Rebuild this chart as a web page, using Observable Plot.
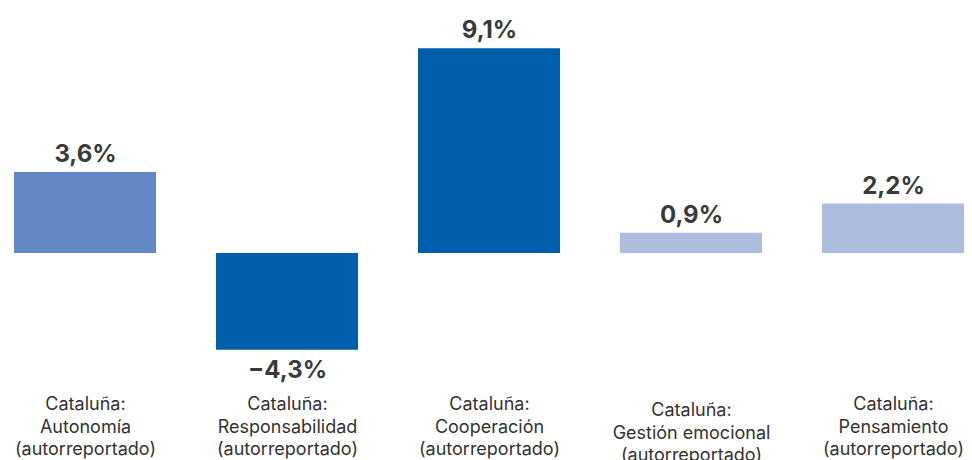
<!DOCTYPE html>
<html>
<head>
<meta charset="utf-8">
<script src="https://cdn.jsdelivr.net/npm/d3@7"></script>
<script src="https://cdn.jsdelivr.net/npm/@observablehq/plot@0.6"></script>
<style>
  html, body { margin: 0; padding: 0; background: #fff; }
  #chart { width: 972px; height: 460px; overflow: hidden; }
</style>
</head>
<body>
<div id="chart"></div>
<script>
const categories = [
  "Cataluña:\nAutonomía\n(autorreportado)",
  "Cataluña:\nResponsabilidad\n(autorreportado)",
  "Cataluña:\nCooperación\n(autorreportado)",
  "Cataluña:\nGestión emocional\n(autorreportado)",
  "Cataluña:\nPensamiento\n(autorreportado)"
];
const values = [3.6, -4.3, 9.1, 0.9, 2.2];
const valueLabels = ["3,6%", "−4,3%", "9,1%", "0,9%", "2,2%"];

const palette = ["#6287c5", "#005fad", "#005fad", "#adbde0", "#adbde0"];

const data = categories.map((c, i) => ({category: c, value: values[i], label: valueLabels[i], idx: i}));

const labelStyle = {fontSize: 18, lineHeight: 1.24, fill: "#333", lineAnchor: "top", frameAnchor: "bottom"};

const chart = Plot.plot({
  width: 972,
  height: 460,
  marginLeft: 14,
  marginRight: 7,
  marginTop: 28,
  marginBottom: 72,
  style: {fontFamily: "Inter, 'Noto Sans', sans-serif", background: "#fff"},
  x: {domain: categories, paddingInner: 0.297, paddingOuter: 0, axis: null},
  y: {domain: [-6, 10], axis: null},
  color: {domain: categories, range: palette},
  marks: [
    Plot.barY(data, {x: "category", y: "value", fill: "category"}),
    Plot.text(data.filter(d => d.value >= 0), {
      x: "category", y: "value", text: "label", dy: -18,
      fontSize: 24, fontWeight: 700, fill: "#3a3a3a"
    }),
    Plot.text(data.filter(d => d.value < 0), {
      x: "category", y: "value", text: "label", dy: 20,
      fontSize: 24, fontWeight: 700, fill: "#3a3a3a"
    }),
    Plot.text(data.filter(d => d.idx !== 3), {
      x: "category", text: "category", dy: 6, ...labelStyle
    }),
    Plot.text(data.filter(d => d.idx === 3), {
      x: "category", text: "category", dy: 12, ...labelStyle
    })
  ]
});
document.getElementById("chart").appendChild(chart);
</script>
</body>
</html>
